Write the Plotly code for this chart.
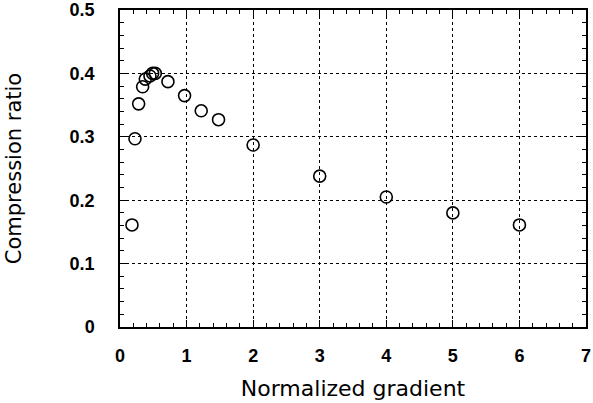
import plotly.graph_objects as go

gradient = [0.18, 0.225, 0.28, 0.34, 0.38, 0.45, 0.49, 0.53, 0.72, 0.97, 1.22, 1.48, 2.0, 3.0, 4.0, 5.0, 6.0]
ratio = [0.161, 0.297, 0.352, 0.379, 0.391, 0.396, 0.400, 0.400, 0.387, 0.365, 0.341, 0.327, 0.287, 0.238, 0.205, 0.180, 0.161]

x_ticks = [0, 1, 2, 3, 4, 5, 6, 7]
y_ticks = [0, 0.1, 0.2, 0.3, 0.4, 0.5]
y_ticktext = ["0", "0.1", "0.2", "0.3", "0.4", "0.5"]

fig = go.Figure()
fig.add_trace(go.Scatter(
    x=gradient, y=ratio, mode="markers",
    marker=dict(symbol="circle-open", size=12, color="black", line=dict(width=1.6, color="black")),
    showlegend=False,
))

tickfont = dict(family="Liberation Sans, Arial, sans-serif", size=18, color="black", weight="bold")
xtitlefont = dict(family="DejaVu Sans, sans-serif", size=22, color="black")
ytitlefont = dict(family="DejaVu Sans, sans-serif", size=21, color="black")

fig.update_layout(
    width=593, height=403,
    margin=dict(l=120, r=7, t=10, b=76),
    paper_bgcolor="white", plot_bgcolor="white",
    xaxis=dict(
        range=[0, 7], tickvals=x_ticks, ticks="inside", ticklen=7, tickwidth=1.2, tickcolor="black",
        showline=True, linecolor="black", linewidth=1.5, mirror="ticks", automargin=False,
        showgrid=True, gridcolor="black", gridwidth=1, griddash="dot",
        zeroline=False, tickfont=tickfont, ticklabelstandoff=12,
        minor=dict(dtick=0.2, ticks="inside", ticklen=4, tickwidth=1, tickcolor="black", showgrid=False),
        title=dict(text="Normalized gradient", font=xtitlefont, standoff=15),
    ),
    yaxis=dict(
        range=[0, 0.5], tickvals=y_ticks, ticktext=y_ticktext, ticks="inside", ticklen=7, tickwidth=1.2, tickcolor="black",
        showline=True, linecolor="black", linewidth=1.5, mirror="ticks", automargin=False,
        showgrid=True, gridcolor="black", gridwidth=1, griddash="dot",
        zeroline=False, tickfont=tickfont, ticklabelstandoff=20,
        minor=dict(dtick=0.02, ticks="inside", ticklen=4, tickwidth=1, tickcolor="black", showgrid=False),
        title=dict(text="Compression ratio", font=ytitlefont, standoff=42),
    ),
)

fig.write_html("out.html")
